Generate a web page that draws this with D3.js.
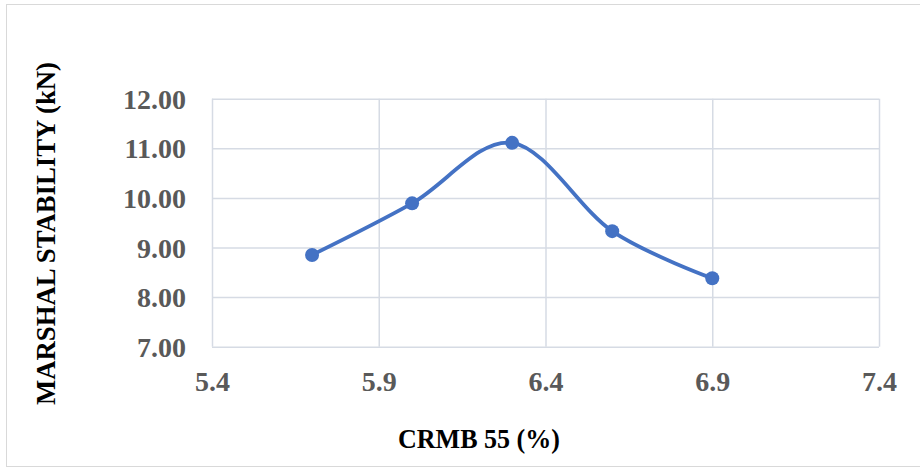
<!DOCTYPE html>
<html>
<head>
<meta charset="utf-8">
<script src="https://cdn.jsdelivr.net/npm/d3@7"></script>
<style>
  html, body { margin: 0; padding: 0; background: #fff; }
  svg { display: block; }
</style>
</head>
<body>
<svg id="chart" width="920" height="468"></svg>
<script>
// CRMB 55 content (%) against Marshall stability (kN)
const crmbContent = [5.7, 6.0, 6.3, 6.6, 6.9];
const stability = [8.85, 9.89, 11.11, 9.33, 8.38];
const xTicks = [5.4, 5.9, 6.4, 6.9, 7.4];
const yTicks = [7, 8, 9, 10, 11, 12];
const xTitle = "CRMB 55 (%)";
const yTitle = "MARSHAL STABILITY (kN)";

const svg = d3.select("#chart");
const font = "'Liberation Serif', 'Times New Roman', serif";
const gridColor = "#d6dbe4";

// chart frame
svg.append("rect")
  .attr("x", 6.5).attr("y", 4.5)
  .attr("width", 930).attr("height", 462)
  .attr("fill", "#fff")
  .attr("stroke", "#d9d9d9").attr("stroke-width", 1);

const plot = { left: 212, right: 879, top: 98.7, bottom: 346.7 };

const x = d3.scaleLinear().domain([5.4, 7.4]).range([plot.left, plot.right]);
const y = d3.scaleLinear().domain([7, 12]).range([plot.bottom, plot.top]);

// gridlines
const xGrid = d3.axisBottom(x).tickValues(xTicks)
  .tickSize(-(plot.bottom - plot.top)).tickFormat("");
const yGrid = d3.axisLeft(y).tickValues(yTicks)
  .tickSize(-(plot.right - plot.left)).tickFormat("");

svg.append("g").attr("transform", `translate(0,${plot.bottom})`).call(xGrid)
  .call(g => g.select(".domain").remove())
  .call(g => g.selectAll("line").attr("stroke", gridColor).attr("stroke-width", 1.5));
svg.append("g").attr("transform", `translate(${plot.left},0)`).call(yGrid)
  .call(g => g.select(".domain").remove())
  .call(g => g.selectAll("line").attr("stroke", gridColor).attr("stroke-width", 1.5));

// tick labels
const yAxis = d3.axisLeft(y).tickValues(yTicks).tickSize(0).tickPadding(26)
  .tickFormat(d3.format(".2f"));
svg.append("g").attr("transform", `translate(${plot.left},0)`).call(yAxis)
  .call(g => g.select(".domain").remove())
  .call(g => g.selectAll("text")
    .attr("font-family", font).attr("font-weight", "bold")
    .attr("font-size", 28).attr("fill", "#595959").attr("dy", "0.34em"));

const xAxis = d3.axisBottom(x).tickValues(xTicks).tickSize(0).tickPadding(24)
  .tickFormat(d3.format(".1f"));
svg.append("g").attr("transform", `translate(0,${plot.bottom})`).call(xAxis)
  .call(g => g.select(".domain").remove())
  .call(g => g.selectAll("text")
    .attr("font-family", font).attr("font-weight", "bold")
    .attr("font-size", 28).attr("fill", "#595959").attr("dy", "0.71em"));

// axis titles
svg.append("text")
  .attr("x", 479).attr("y", 448)
  .attr("text-anchor", "middle")
  .attr("font-family", font).attr("font-weight", "bold")
  .attr("font-size", 28).attr("fill", "#000")
  .attr("textLength", 162).attr("lengthAdjust", "spacingAndGlyphs")
  .text(xTitle);

svg.append("text")
  .attr("transform", "translate(55,233.5) rotate(-90)")
  .attr("text-anchor", "middle")
  .attr("font-family", font).attr("font-weight", "bold")
  .attr("font-size", 28).attr("fill", "#000")
  .attr("textLength", 343).attr("lengthAdjust", "spacingAndGlyphs")
  .text(yTitle);

// smoothed series line and markers
const pts = crmbContent.map((c, i) => [c, stability[i]]);
const line = d3.line()
  .x(d => x(d[0])).y(d => y(d[1]))
  .curve(d3.curveCardinal.tension(0));

svg.append("path")
  .datum(pts)
  .attr("d", line)
  .attr("fill", "none")
  .attr("stroke", "#4472c4")
  .attr("stroke-width", 3.8)
  .attr("stroke-linecap", "round");

svg.append("g").selectAll("circle")
  .data(pts)
  .join("circle")
  .attr("cx", d => x(d[0]))
  .attr("cy", d => y(d[1]))
  .attr("r", 7)
  .attr("fill", "#4472c4");
</script>
</body>
</html>
